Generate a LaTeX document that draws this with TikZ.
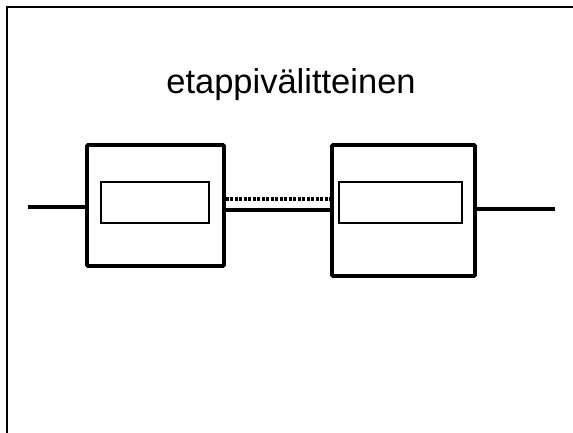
\documentclass[tikz,border=0pt]{standalone}
\usepackage{fontspec}
\setmainfont{Liberation Sans}
\usetikzlibrary{positioning}

\begin{document}
\begin{tikzpicture}[x=1pt,y=-1pt]
         \tikzset{outerbox/.style={draw,line width=3.6pt,rounded corners=1pt,inner sep=0pt}}
         \tikzset{innerbox/.style={draw,line width=1.3pt,inner sep=0pt}}
         \tikzset{wire/.style={line width=3.2pt}}
         \useasboundingbox (0,0) rectangle (573,432);
         \draw[line width=2.6pt] (7,440) -- (7,7) -- (580,7);
         \node (title) at (291,93) [anchor=base,font=\fontsize{34.5}{40}\selectfont] {etappivälitteinen};
         % the two stations
         \node (stationA) at (155.5,205.5) [outerbox,minimum width=137pt,minimum height=121pt] {};
         \node (stationB) at (403.5,210.5) [outerbox,minimum width=143pt,minimum height=131pt] {};
         \node (unitA) at (155,202.5) [innerbox,minimum width=108pt,minimum height=41pt] {};
         \node (unitB) at (400.5,202.5) [innerbox,minimum width=123pt,minimum height=41pt] {};
         \coordinate (lineIn) at (28,207);
         \coordinate (lineOut) at (555,209);
         \coordinate (linkA) at (stationA.east |- 0,210);
         \coordinate (hopA) at (stationA.east |- 0,199);
         % connections
         \draw[wire] (lineIn) -- (lineIn -| stationA.west);
         \draw[wire] (linkA) -- (linkA -| stationB.west);
         \draw[wire,dash pattern=on 3pt off 1.5pt] (hopA) -- (hopA -| stationB.west);
         \draw[wire] (lineOut -| stationB.east) -- (lineOut);
\end{tikzpicture}
\end{document}
